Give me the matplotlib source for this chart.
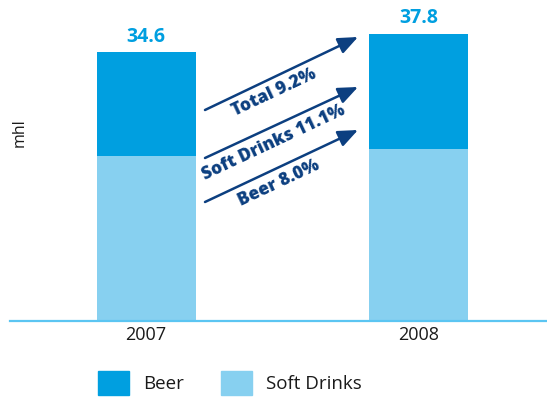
import matplotlib
matplotlib.use('Agg')
import matplotlib.pyplot as plt
from matplotlib.patches import Patch

# data
years = ['2007', '2008']
soft_drinks = [21.3, 22.1]
beer = [13.3, 14.9]
totals = ['34.6', '37.8']
growth_labels = ['Total 9.2%', 'Soft Drinks 11.1%', 'Beer 8.0%']

BEER_C = '#009fe0'
SOFT_C = '#87d0f0'
NAVY = '#0c3f80'
FONT = ['Open Sans', 'DejaVu Sans']

W, H = 547, 399
fig = plt.figure(figsize=(W / 100, H / 100), dpi=100)
plt.rcParams['font.family'] = FONT

base_y = 320.5
ax = fig.add_axes([10 / W, (H - base_y) / H, 537 / W, base_y / H])
x = [0, 1]
ax.bar(x, soft_drinks, width=0.364, color=SOFT_C, zorder=2)
ax.bar(x, beer, width=0.364, bottom=soft_drinks, color=BEER_C, zorder=2)
ax.set_xlim(-0.5, 1.472)
ax.set_ylim(0, base_y / 7.746)

for s in ['top', 'right', 'left']:
    ax.spines[s].set_visible(False)
ax.spines['bottom'].set_color('#5bc5f2')
ax.spines['bottom'].set_linewidth(1.6)
ax.set_yticks([])
ax.set_xticks(x)
ax.set_xticklabels(years, fontsize=13, color='#1a1a1a')
ax.tick_params(axis='x', length=0, pad=4)

# totals above bars
for xi, s, b, t in zip(x, soft_drinks, beer, totals):
    ax.annotate(t, (xi, s + b), xytext=(0, 4), textcoords='offset points',
                ha='center', va='bottom', fontsize=14, fontweight='bold',
                color=BEER_C)

fig.text(20 / W, 1 - 133 / H, 'mhl', rotation=90, ha='center', va='center',
         fontsize=11.5, color='#1a1a1a')

# growth arrows (figure pixel positions)
def px(xp, yp):
    return (xp / W, 1 - yp / H)

arrows = [((205, 110), (358, 37)), ((205, 158), (358, 87)), ((205, 202), (358, 130))]
text_pos = [(274, 93), (274, 143), (279, 183)]
for (p0, p1), lbl, tp in zip(arrows, growth_labels, text_pos):
    fig.add_artist(matplotlib.patches.FancyArrowPatch(
        px(*p0), px(*p1), transform=fig.transFigure,
        arrowstyle='-|>,head_length=12,head_width=5', mutation_scale=1,
        color=NAVY, lw=1.8, shrinkA=0, shrinkB=0))
    fig.text(*px(*tp), lbl, rotation=25.2, rotation_mode='anchor',
             ha='center', va='center', fontsize=12.5, fontweight='heavy',
             color=NAVY)

# legend
handles = [Patch(color=BEER_C, label='Beer'), Patch(color=SOFT_C, label='Soft Drinks')]
fig.legend(handles=handles, loc='center left', bbox_to_anchor=(98 / W, 1 - 383 / H),
           ncol=2, frameon=False, fontsize=13.5, handlelength=1.65, handleheight=1.6,
           handletextpad=0.75, columnspacing=2.0, borderpad=0, borderaxespad=0,
           labelcolor='#1a1a1a')

fig.savefig('out.png', dpi=100)
